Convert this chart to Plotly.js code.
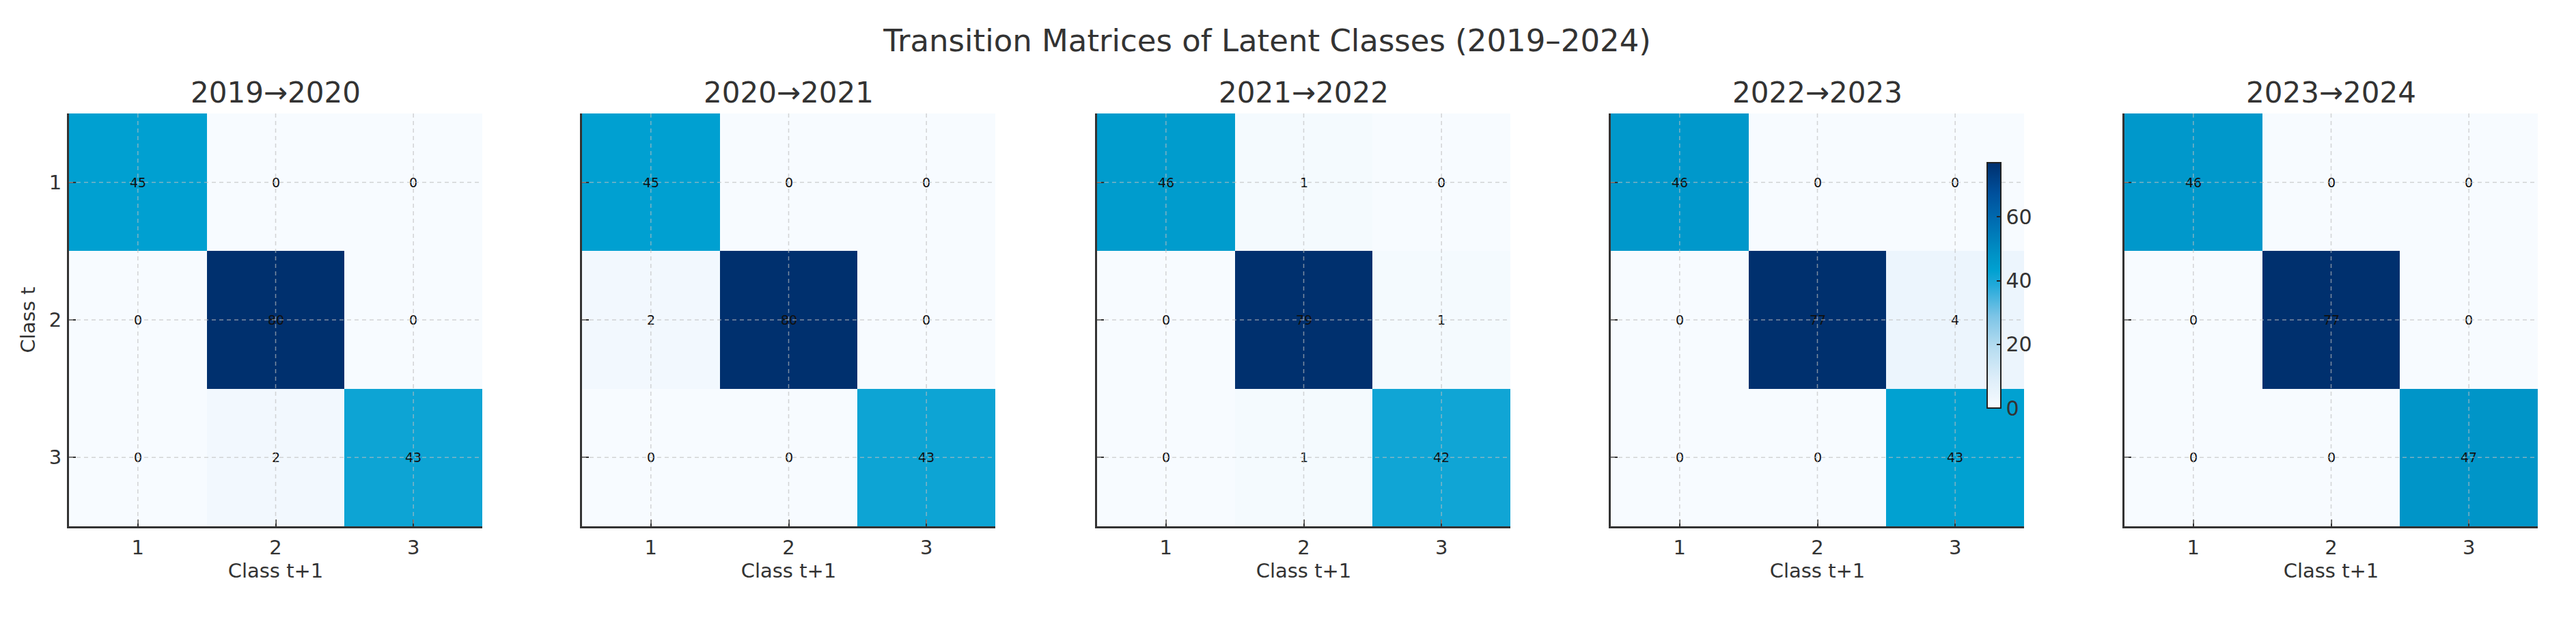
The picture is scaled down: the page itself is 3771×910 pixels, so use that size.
<!DOCTYPE html>
<html><head><meta charset="utf-8">
<script src="https://cdn.plot.ly/plotly-3.0.1.min.js"></script>
<style>html,body{margin:0;padding:0;background:#fff}</style>
</head><body><div id="chart" style="width:3771px;height:910px"></div>
<script>
// ---- data ----
const classes = [1, 2, 3];
const periods = ['2019→2020', '2020→2021', '2021→2022', '2022→2023', '2023→2024'];
const m2019 = [[45, 0, 0], [0, 80, 0], [0, 2, 43]];
const m2020 = [[45, 0, 0], [2, 80, 0], [0, 0, 43]];
const m2021 = [[46, 1, 0], [0, 79, 1], [0, 1, 42]];
const m2022 = [[46, 0, 0], [0, 77, 4], [0, 0, 43]];
const m2023 = [[46, 0, 0], [0, 77, 0], [0, 0, 47]];
const colorbarTicks = [0, 20, 40, 60];
const mainTitle = 'Transition Matrices of Latent Classes (2019–2024)';
const xLabel = 'Class t+1';
const yLabel = 'Class t';

// ---- styling / layout ----
const matrices = [m2019, m2020, m2021, m2022, m2023];
const colorbarPanel = 3;
const W = 3771, H = 910;
const panelLefts = [101, 852, 1606, 2358, 3110];
const pw = 605;
const plotTop = 166, plotBottom = 770;
const FONT = 'DejaVu Sans, Arial, sans-serif';
const TXT = '#333333';
const scale = [
  [0, '#f7fbff'], [0.125, '#dcedf9'], [0.25, '#b5dcf0'], [0.375, '#7cc4e6'],
  [0.5, '#22a9da'], [0.56, '#00a1d1'], [0.625, '#0092c6'], [0.75, '#0070b3'],
  [0.875, '#00509c'], [1, '#00306e']
];

const data = [];
const layout = {
  width: W, height: H, autosize: false,
  margin: {l: 0, r: 0, t: 0, b: 0, pad: 0},
  paper_bgcolor: '#ffffff', plot_bgcolor: '#ffffff',
  font: {family: FONT, color: TXT},
  showlegend: false,
  title: {text: mainTitle, x: 1855 / W, y: 1 - 59 / H, xanchor: 'center', yanchor: 'middle',
          xref: 'paper', yref: 'paper', font: {size: 45, color: TXT, family: FONT}},
  annotations: [], shapes: []
};

const yDom = [(H - plotBottom) / H, (H - plotTop) / H];
matrices.forEach((m, i) => {
  const sfx = i === 0 ? '' : String(i + 1);
  const xa = 'x' + sfx, ya = 'y' + sfx;
  const zmax = Math.max(...m.flat());
  const tr = {
    type: 'heatmap', z: m, x: classes, y: classes,
    xaxis: xa, yaxis: ya,
    colorscale: scale, zmin: 0, zmax: zmax,
    texttemplate: '%{z}', textfont: {size: 19, color: '#111111', family: FONT},
    hoverinfo: 'skip',
    showscale: i === colorbarPanel
  };
  if (i === colorbarPanel) {
    tr.colorbar = {
      x: 2909 / W, xanchor: 'left', xref: 'paper',
      y: 1 - 417.5 / H, yanchor: 'middle', yref: 'paper',
      len: 359, lenmode: 'pixels', thickness: 20, thicknessmode: 'pixels',
      outlinewidth: 2, outlinecolor: '#222222',
      tickvals: colorbarTicks, ticks: 'inside', ticklen: 7, tickwidth: 2, tickcolor: '#222222',
      tickfont: {size: 30, color: TXT, family: FONT}, ypad: 0, xpad: 0,
      ticklabelstandoff: 6
    };
  }
  data.push(tr);
  const dom = [panelLefts[i] / W, (panelLefts[i] + pw) / W];
  layout['xaxis' + sfx] = {
    domain: dom, anchor: ya, range: [0.5, 3.5], tickvals: classes,
    showgrid: false, zeroline: false, showline: true, linecolor: '#333333', linewidth: 3,
    ticks: 'inside', ticklen: 10, tickwidth: 2, tickcolor: '#333333',
    tickfont: {size: 29, color: TXT, family: FONT}, ticklabelstandoff: 3,
    title: {text: xLabel, font: {size: 29, color: TXT, family: FONT}, standoff: 6},
    fixedrange: true, layer: 'above traces'
  };
  layout['yaxis' + sfx] = {
    domain: yDom, anchor: xa, range: [3.5, 0.5], tickvals: classes,
    showgrid: false, zeroline: false, showline: true, linecolor: '#333333', linewidth: 3,
    ticks: 'inside', ticklen: 10, tickwidth: 2, tickcolor: '#333333',
    showticklabels: i === 0,
    tickfont: {size: 29, color: TXT, family: FONT}, ticklabelstandoff: 2,
    title: i === 0 ? {text: yLabel, font: {size: 29, color: TXT, family: FONT}, standoff: 12} : {text: ''},
    fixedrange: true, layer: 'above traces'
  };
  layout.annotations.push({
    text: periods[i], xref: 'paper', yref: 'paper',
    x: (panelLefts[i] + pw / 2) / W, y: 1 - 135 / H, xanchor: 'center', yanchor: 'middle',
    showarrow: false, font: {size: 42, color: TXT, family: FONT}
  });
  classes.forEach(c => {
    const gl = {color: 'rgba(190,190,190,0.65)', width: 1.5, dash: '6px,5px'};
    layout.shapes.push({type: 'line', xref: xa, yref: ya, x0: c, x1: c, y0: 0.5, y1: 3.5, line: gl, layer: 'above'});
    layout.shapes.push({type: 'line', xref: xa, yref: ya, y0: c, y1: c, x0: 0.5, x1: 3.5, line: gl, layer: 'above'});
  });
});

Plotly.newPlot('chart', data, layout, {displayModeBar: false, staticPlot: true});
</script></body></html>
